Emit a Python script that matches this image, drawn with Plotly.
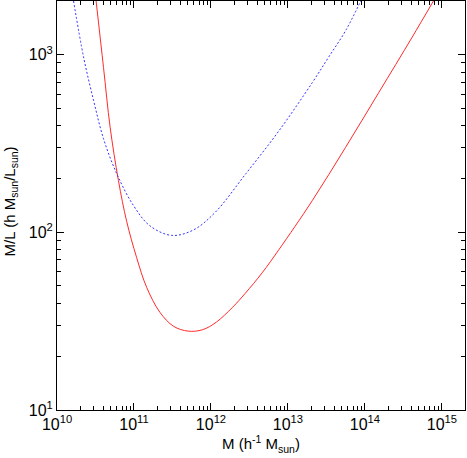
"""M/L theo khối lượng halo (log-log)."""

import plotly.graph_objects as go

# đường đỏ (liền)
red_mass = [3.22e10, 4.02e10, 4.90e10, 6.28e10, 8.05e10, 1.08e11, 1.46e11, 2.17e11, 3.27e11,
            5.06e11, 7.74e11, 1.17e12, 1.91e12, 2.79e12, 4.62e12, 7.67e12, 2.07e13, 5.60e13,
            1.51e14, 4.06e14, 7.76e14]
red_ml = [2010, 849, 391, 196, 115, 72.4, 49.1, 35.5, 29.6,
          27.8, 28.3, 31.2, 37.9, 45.4, 59.2, 80.2, 151, 301,
          612, 1246, 2010]

# đường xanh (chấm)
blue_mass = [1.64e10, 2.21e10, 2.99e10, 4.02e10, 5.97e10, 9.82e10, 1.61e11, 3.08e11,
             5.86e11, 1.12e12, 2.84e12, 7.67e12, 2.07e13, 3.40e13, 5.60e13, 8.83e13]
blue_ml = [2010, 975, 552, 337, 214, 142, 109, 96.2,
           103, 129, 214, 374, 697, 975, 1365, 2010]

x_exps = [10, 11, 12, 13, 14, 15]
y_exps = [1, 2, 3]

FONT = "Liberation Sans, Arial, sans-serif"

fig = go.Figure()
fig.add_trace(go.Scatter(x=red_mass, y=red_ml, mode="lines", line_shape="spline",
                         line=dict(color="#ff2a2a", width=1, smoothing=1)))
fig.add_trace(go.Scatter(x=blue_mass, y=blue_ml, mode="lines", line_shape="spline",
                         line=dict(color="#3333ff", width=1, smoothing=1, dash="2px,2px")))

axis_common = dict(
    type="log",
    showline=True,
    linecolor="black",
    linewidth=1,
    mirror="allticks",
    ticks="inside",
    ticklen=7,
    tickcolor="black",
    showgrid=False,
    zeroline=False,
    automargin=False,
    tickfont=dict(family=FONT, size=16, color="black"),
    minor=dict(ticks="inside", ticklen=4, tickcolor="black", dtick="D1", showgrid=False),
)

fig.update_xaxes(
    range=[10, 15.3],
    tickvals=[10 ** e for e in x_exps],
    ticktext=[f"10<sup>{e}</sup>" for e in x_exps],
    title=dict(text="M (h<sup>-1</sup> M<sub>sun</sub>)",
               font=dict(family=FONT, size=15, color="black"), standoff=2),
    **axis_common,
)
fig.update_yaxes(
    range=[1, 3.303],
    tickvals=[10 ** e for e in y_exps],
    ticktext=[f"10<sup>{e}</sup>" for e in y_exps],
    **axis_common,
)

fig.add_annotation(
    text="M/L (h M<sub>sun</sub>/L<sub>sun</sub>)",
    xref="paper", yref="paper", x=0, y=0.51,
    xanchor="center", yanchor="middle",
    xshift=-47, textangle=-90, showarrow=False,
    font=dict(family=FONT, size=15, color="black"),
)

fig.update_layout(
    width=467,
    height=458,
    margin=dict(l=57, r=2, t=1, b=48),
    plot_bgcolor="white",
    paper_bgcolor="white",
    showlegend=False,
)

# bỏ lề mặc định của trang để khung hình khớp cửa sổ
fig.write_html("out.html", config={"displayModeBar": False},
               post_script="document.body.style.margin='0';")
